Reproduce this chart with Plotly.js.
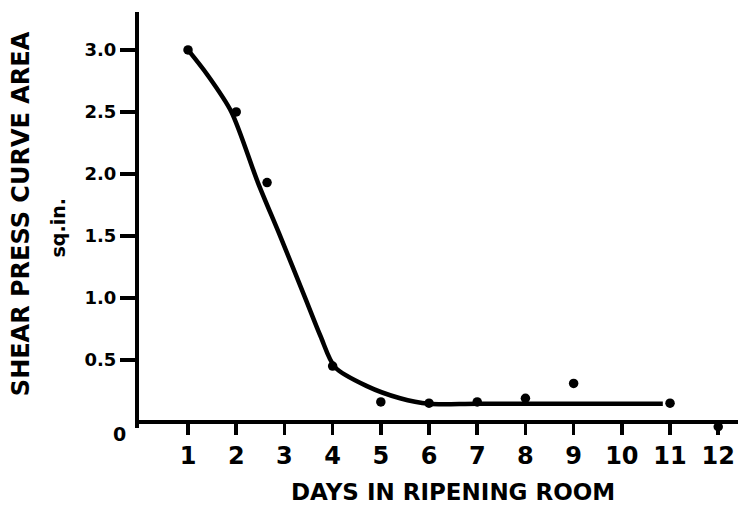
<!DOCTYPE html>
<html>
<head>
<meta charset="utf-8">
<script src="https://cdn.plot.ly/plotly-3.0.1.min.js"></script>
<style>html,body{margin:0;padding:0;background:#fff;}#chart{width:738px;height:506px;}</style>
</head>
<body>
<div id="chart"></div>
<script>
// Observed data points (days, shear press curve area in sq.in.)
const pointDays = [1, 2, 2.64, 4, 5, 6, 7, 8, 9, 11, 12];
const pointArea = [3.0, 2.5, 1.93, 0.45, 0.16, 0.15, 0.16, 0.19, 0.31, 0.15, -0.04];

// Hand-drawn fitted curve
const curveDays = [1, 1.4, 1.9, 2.45, 2.91, 3.43, 3.75, 4.05, 4.7, 5.4, 6.0, 7.0, 10.85];
const curveArea = [3.0, 2.8, 2.5, 1.93, 1.5, 1.0, 0.69, 0.44, 0.29, 0.19, 0.145, 0.145, 0.145];

// Tick labels
const xTicks = [1, 2, 3, 4, 5, 6, 7, 8, 9, 10, 11, 12];
const xTickText = ['1', '2', '3', '4', '5', '6', '7', '8', '9', '10', '11', '12'];
const yTicks = [0.5, 1.0, 1.5, 2.0, 2.5, 3.0];
const yTickText = ['0.5', '1.0', '1.5', '2.0', '2.5', '3.0'];

const FONT = 'DejaVu Sans, sans-serif';
const Y0 = -0.05;   // bottom of the value range, just below zero

const traces = [
  {
    x: curveDays, y: curveArea, type: 'scatter', mode: 'lines',
    line: {color: '#000', width: 4.5, shape: 'spline', smoothing: 0.8},
    hoverinfo: 'skip', showlegend: false, cliponaxis: false
  },
  {
    x: pointDays, y: pointArea, type: 'scatter', mode: 'markers',
    marker: {color: '#000', size: 9.5},
    showlegend: false, cliponaxis: false
  }
];

const range = [Y0, 3.306];
const zeroFrac = (0 - Y0) / (range[1] - Y0);

const layout = {
  width: 738, height: 506,
  margin: {l: 139, r: 0, t: 12, b: 78},
  paper_bgcolor: '#fff', plot_bgcolor: '#fff',
  showlegend: false,
  xaxis: {
    range: [-0.017, 12.41],
    anchor: 'free', position: zeroFrac,
    tickmode: 'array', tickvals: xTicks, ticktext: xTickText,
    ticks: 'outside', ticklen: 11, tickwidth: 3.5, tickcolor: '#000',
    showline: true, linecolor: '#000', linewidth: 4,
    showgrid: false, zeroline: false,
    tickfont: {family: FONT, size: 24, color: '#000', weight: 'bold'}
  },
  yaxis: {
    range: range,
    tickmode: 'array', tickvals: yTicks, ticktext: yTickText,
    ticks: 'outside', ticklen: 15, tickwidth: 3.5, tickcolor: '#000',
    showline: true, linecolor: '#000', linewidth: 4,
    showgrid: false, zeroline: false,
    tickfont: {family: FONT, size: 18, color: '#000', weight: 'bold'}
  },
  annotations: [
    {xref: 'paper', yref: 'paper', x: -0.033, y: zeroFrac - 0.03, xanchor: 'center', yanchor: 'middle',
     text: '0', showarrow: false, font: {family: FONT, size: 19, color: '#000', weight: 'bold'}},
    {xref: 'paper', yref: 'paper', x: 0.524, y: -0.155, xanchor: 'center', yanchor: 'middle',
     text: 'DAYS IN RIPENING ROOM', showarrow: false,
     font: {family: FONT, size: 23, color: '#000', weight: 'bold'}},
    {xref: 'paper', yref: 'paper', x: -0.198, y: 0.515, xanchor: 'center', yanchor: 'middle',
     text: 'SHEAR PRESS CURVE AREA', textangle: -90, showarrow: false,
     font: {family: FONT, size: 24, color: '#000', weight: 'bold'}},
    {xref: 'paper', yref: 'paper', x: -0.135, y: 0.48, xanchor: 'center', yanchor: 'middle',
     text: 'sq.in.', textangle: -90, showarrow: false,
     font: {family: FONT, size: 19, color: '#000', weight: 'bold'}}
  ]
};

Plotly.newPlot('chart', traces, layout, {displayModeBar: false, staticPlot: true});
</script>
</body>
</html>
